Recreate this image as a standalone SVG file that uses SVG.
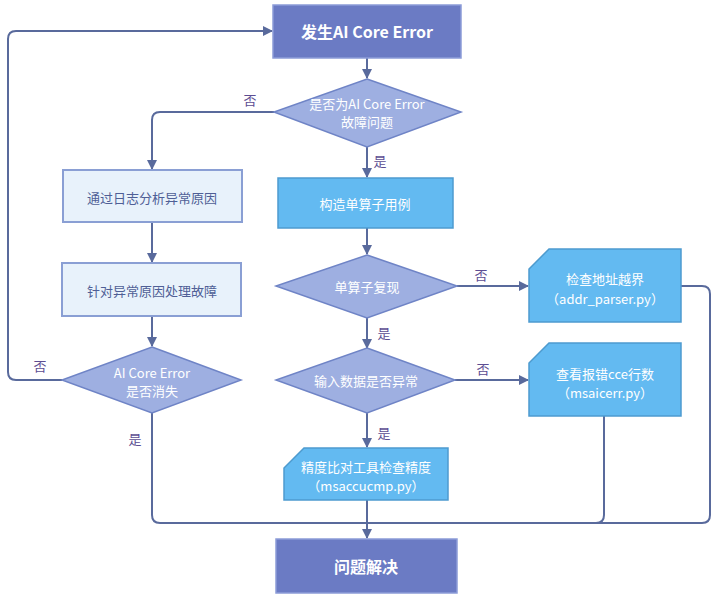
<svg xmlns="http://www.w3.org/2000/svg" width="720" height="599" viewBox="0 0 720 599">
<style>
text{font-family:"Noto Sans CJK SC","Microsoft YaHei",sans-serif;text-anchor:middle;dominant-baseline:central}
.dark{fill:#6b7bc4;stroke:#8c9cd8;stroke-width:1.5}
.dia{fill:#9eafe1;stroke:#6f84c6;stroke-width:1.5}
.light{fill:#e8f2fb;stroke:#8a9fd4;stroke-width:2}
.card{fill:#63baf1;stroke:#4d9bcf;stroke-width:1.5}
.w{fill:#fff;font-size:13px}
.wb{fill:#fff;font-size:16px;font-weight:bold}
.t{fill:#4f5f96;font-size:13px}
.lbl{fill:#5c4d92;font-size:13px}
.c{fill:none;stroke:#596a9c;stroke-width:2}
</style>
<defs>
<marker id="ah" viewBox="0 0 10 10" refX="9" refY="5" markerWidth="5" markerHeight="5" orient="auto" markerUnits="strokeWidth">
<path d="M0,0 L10,5 L0,10 z" fill="#596a9c"/>
</marker>
</defs>
<g id="connectors">
<path class="c" d="M367,58 V78" marker-end="url(#ah)"/>
<path class="c" d="M274,112 H160 Q152,112 152,120 V169" marker-end="url(#ah)"/>
<path class="c" d="M152,222 V262" marker-end="url(#ah)"/>
<path class="c" d="M152,316 V346" marker-end="url(#ah)"/>
<path class="c" d="M62,380 H16 Q8,380 8,372 V39 Q8,31 16,31 H272" marker-end="url(#ah)"/>
<path class="c" d="M152,413 V515 Q152,523 160,523 H367"/>
<path class="c" d="M367,147 V177" marker-end="url(#ah)"/>
<path class="c" d="M367,228 V254" marker-end="url(#ah)"/>
<path class="c" d="M457,286 H528" marker-end="url(#ah)"/>
<path class="c" d="M367,318 V348" marker-end="url(#ah)"/>
<path class="c" d="M455,380 H528" marker-end="url(#ah)"/>
<path class="c" d="M367,413 V447" marker-end="url(#ah)"/>
<path class="c" d="M367,500 V538" marker-end="url(#ah)"/>
<path class="c" d="M604,416 V515 Q604,523 596,523 H367"/>
<path class="c" d="M681,286 H702 Q710,286 710,294 V515 Q710,523 702,523 H367"/>
<text class="lbl" x="250" y="99">否</text>
<text class="lbl" x="380" y="160">是</text>
<text class="lbl" x="481" y="274">否</text>
<text class="lbl" x="384" y="332">是</text>
<text class="lbl" x="483" y="368">否</text>
<text class="lbl" x="384" y="432">是</text>
<text class="lbl" x="40" y="365">否</text>
<text class="lbl" x="135" y="438">是</text>
</g>
<g id="start">
<rect class="dark" x="273" y="5" width="188" height="53"/>
<text class="wb" x="367" y="31">发生AI Core Error</text>
</g>
<g id="d1">
<polygon class="dia" points="367,79 461,112 367,147 274,112"/>
<text class="w" x="367" y="103">是否为AI Core Error</text>
<text class="w" x="367" y="121">故障问题</text>
</g>
<g id="log">
<rect class="light" x="63" y="170" width="179" height="52"/>
<text class="t" x="152" y="197">通过日志分析异常原因</text>
</g>
<g id="fix">
<rect class="light" x="62" y="263" width="179" height="53"/>
<text class="t" x="152" y="290">针对异常原因处理故障</text>
</g>
<g id="d3">
<polygon class="dia" points="152,347 241,380 152,413 62,380"/>
<text class="w" x="152" y="372">AI Core Error</text>
<text class="w" x="152" y="390">是否消失</text>
</g>
<g id="build">
<rect class="card" x="278" y="178" width="175" height="50"/>
<text class="w" x="365" y="203">构造单算子用例</text>
</g>
<g id="d2">
<polygon class="dia" points="367,255 457,286 367,318 276,286"/>
<text class="w" x="367" y="286">单算子复现</text>
</g>
<g id="d4">
<polygon class="dia" points="367,348 455,380 367,413 276,380"/>
<text class="w" x="366" y="380">输入数据是否异常</text>
</g>
<g id="addr">
<polygon class="card" points="549,249 681,249 681,322 529,322 529,269"/>
<text class="w" x="605" y="278">检查地址越界</text>
<text class="w" x="605" y="298">（addr_parser.py）</text>
</g>
<g id="cce">
<polygon class="card" points="549,343 681,343 681,416 529,416 529,363"/>
<text class="w" x="605" y="373">查看报错cce行数</text>
<text class="w" x="605" y="392">（msaicerr.py）</text>
</g>
<g id="acc">
<polygon class="card" points="304,448 448,448 448,500 284,500 284,468"/>
<text class="w" x="366" y="466">精度比对工具检查精度</text>
<text class="w" x="366" y="485">（msaccucmp.py）</text>
</g>
<g id="end">
<rect class="dark" x="276" y="539" width="181" height="54"/>
<text class="wb" x="366" y="566">问题解决</text>
</g>
</svg>
